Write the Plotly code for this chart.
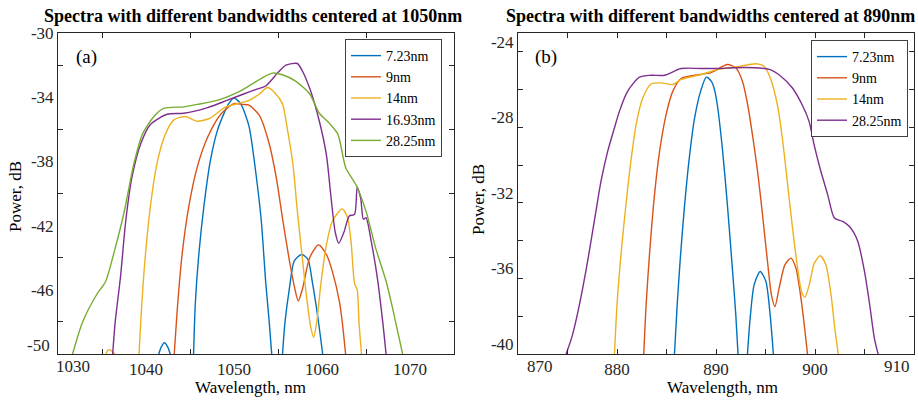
import plotly.graph_objects as go

# ---------------- data: panel (a), centered at 1050 nm ----------------
labels_a = ["7.23nm", "9nm", "14nm", "16.93nm", "28.25nm"]

wl_a_723 = [1041.4, 1041.7, 1042.1, 1042.5, 1042.8, None,
            1045.4, 1045.6, 1046.0, 1046.6, 1047.3, 1048.1, 1048.9, 1049.4, 1050.0, 1050.75,
            1051.7, 1052.5, 1053.1, 1053.6, 1054.0, 1054.3, None,
            1055.5, 1055.8, 1056.3, 1056.85, 1057.7, 1058.4, 1058.9, 1059.5, 1060.1]
p_a_723 = [-50.1, -49.6, -49.3, -49.6, -50.1, None,
           -50.1, -46.9, -43.8, -40.7, -38.0, -36.1, -34.96, -34.4, -34.06, -34.4,
           -35.8, -38.8, -41.7, -45.5, -48.0, -50.1, None,
           -50.1, -48.0, -45.9, -44.2, -43.8, -44.1, -45.5, -47.6, -50.1]

wl_a_9 = [1043.2, 1043.6, 1044.1, 1044.9, 1045.8, 1047.0, 1048.5, 1050.0, 1051.0, 1051.7,
          1052.9, 1054.0, 1054.8, 1055.5, 1056.3, 1056.9, 1057.3, 1057.8, 1058.6, 1059.6,
          1060.5, 1061.2, 1062.0, 1062.3, 1062.7]
p_a_9 = [-50.1, -46.9, -43.8, -40.7, -38.4, -36.5, -35.06, -34.4, -34.45, -34.5,
         -35.15, -36.9, -39.0, -41.5, -44.2, -45.9, -46.7, -45.9, -44.0, -43.2,
         -43.8, -44.9, -46.8, -48.0, -50.1]

wl_a_14 = [1035.4, 1035.7, 1036.1, 1036.6, None,
           1039.2, 1039.4, 1039.8, 1040.5, 1041.3, 1042.2, 1043.2, 1044.5, 1045.8, 1047.3,
           1048.9, 1050.4, 1051.7, 1052.9, 1053.8, 1054.6, 1055.5, 1056.1, 1056.7, 1057.2,
           1057.8, 1058.3, 1058.75, 1059.05, 1059.4, 1059.9, 1060.5, 1061.2, 1062.3, 1062.9,
           1063.3, 1063.7, 1064.0, 1064.2, 1064.5]
p_a_14 = [-50.1, -49.75, -49.8, -50.1, None,
          -50.1, -48.0, -44.7, -40.8, -38.0, -36.3, -35.4, -35.2, -35.5, -35.3,
          -34.65, -34.4, -34.2, -33.8, -33.4, -33.7, -34.4, -36.1, -38.2, -41.1,
          -44.2, -46.7, -48.4, -48.96, -48.0, -45.5, -43.2, -41.7, -40.96, -41.5,
          -43.0, -45.6, -46.0, -48.0, -50.1]

wl_a_1693 = [1036.2, 1036.5, 1037.1, 1037.7, 1038.4, 1039.4, 1040.5, 1042.4, 1044.3, 1047.0,
             1049.2, 1051.1, 1052.6, 1053.6, 1055.1, 1055.9, 1057.2, 1057.8, 1058.7, 1059.7,
             1060.5, 1061.0, 1061.5, 1061.9, 1062.5, 1063.1, 1063.7, 1064.0, 1064.4, 1064.7,
             1065.0, 1065.6, 1066.3, 1066.9, 1067.3]
p_a_1693 = [-50.1, -48.0, -45.2, -41.7, -39.0, -36.9, -35.7, -35.06, -35.0, -34.65,
            -34.2, -33.8, -33.5, -33.3, -32.4, -32.0, -31.9, -32.4, -33.6, -35.5,
            -37.6, -40.1, -42.4, -43.1, -42.4, -41.4, -41.3, -39.6, -40.3, -41.6,
            -41.5, -43.0, -45.3, -48.0, -50.1]

wl_a_2825 = [1031.6, 1032.8, 1034.5, 1035.4, 1036.5, 1037.5, 1038.6, 1039.6, 1040.9, 1042.0,
             1044.3, 1045.8, 1048.1, 1050.4, 1051.7, 1052.6, 1053.5, 1054.4, 1055.5, 1057.0,
             1058.6, 1059.7, 1060.8, 1061.8, 1062.7, 1063.9, 1065.0, 1066.1, 1067.3, 1068.0,
             1069.2]
p_a_2825 = [-50.1, -48.0, -46.2, -45.5, -43.4, -41.2, -38.2, -36.3, -35.2, -34.7,
            -34.6, -34.45, -34.2, -33.7, -33.3, -33.0, -32.7, -32.5, -32.6, -33.0,
            -33.8, -35.0, -35.6, -36.3, -38.4, -39.5, -41.1, -43.4, -45.5, -47.1,
            -50.1]

# ---------------- data: panel (b), centered at 890 nm ----------------
labels_b = ["7.23nm", "9nm", "14nm", "28.25nm"]

wl_b_723 = [885.8, 886.08, 886.42, 886.83, 887.34, 887.84, 888.45, 889.02, 889.52, 889.8,
            890.13, 890.64, 891.15, 891.65, 892.0, 892.23, None,
            893.17, 893.45, 893.85, 894.46, 895.04, 895.47, 895.8]
p_b_723 = [-40.05, -37.4, -34.75, -32.1, -29.44, -27.5, -26.08, -25.34, -25.55, -25.9,
           -26.8, -29.1, -32.1, -35.45, -37.93, -40.05, None,
           -40.05, -38.1, -36.34, -35.63, -36.16, -37.93, -40.05]

wl_b_9 = [882.7, 882.94, 883.28, 883.79, 884.3, 884.96, 885.64, 886.48, 887.84, 889.5,
          891.15, 892.0, 892.67, 893.2, 893.68, 894.2, 894.7, 895.2, 895.6, 895.95,
          896.38, 896.96, 897.57, 898.07, 898.58, 898.99, 899.25]
p_b_9 = [-40.05, -37.4, -34.75, -31.56, -29.27, -27.32, -26.08, -25.41, -25.24, -25.1,
         -24.67, -24.84, -25.55, -26.8, -28.38, -30.33, -32.63, -35.1, -36.87, -37.49,
         -36.5, -35.28, -34.92, -35.45, -37.04, -38.8, -40.05]

wl_b_14 = [879.74, 880.0, 880.4, 880.9, 881.4, 881.93, 882.6, 883.44, 884.46, 885.64,
           886.48, 888.5, 890.2, 892.5, 894.0, 894.86, 895.54, 896.2, 896.7, 897.2,
           897.73, 898.24, 898.64, 898.99, 899.42, 899.93, 900.54, 901.1, 901.62, 902.0,
           902.36]
p_b_14 = [-40.05, -37.4, -34.75, -32.1, -29.8, -27.85, -26.44, -25.7, -25.64, -25.73,
          -25.46, -25.2, -24.93, -24.76, -24.63, -24.76, -25.46, -26.8, -28.56, -30.86,
          -33.33, -35.45, -36.7, -36.99, -36.34, -35.19, -34.8, -35.28, -36.87, -38.64,
          -40.05]

wl_b_2825 = [874.83, 875.5, 876.2, 876.86, 877.37, 877.87, 878.38, 879.06, 879.74, 880.24,
             881.08, 882.27, 883.44, 884.8, 886.48, 888.5, 890.2, 891.8, 893.85, 895.4,
             896.55, 897.7, 898.7, 899.4, 899.9, 900.5, 901.28, 901.96, 902.8, 903.48,
             904.3, 904.99, 905.5, 906.0, 906.4]
p_b_2825 = [-40.05, -39.0, -37.4, -35.6, -34.04, -32.45, -30.86, -29.27, -28.03, -27.15,
            -26.08, -25.34, -25.24, -25.24, -24.88, -24.88, -24.88, -24.84, -24.84, -24.93,
            -25.29, -25.9, -26.8, -27.68, -28.9, -30.15, -31.56, -32.8, -32.98, -33.25,
            -34.0, -35.6, -37.3, -39.17, -40.05]

# tick labels (edge labels are drawn inset, as in the original figure)
xticks_a = [1040, 1050, 1060, 1070]
xminor_a = [1035, 1045, 1055, 1065]
yticks_a = [-30, -34, -38, -42, -46]
yminor_a = [-32, -36, -40, -44, -48]
xticks_b = [880, 890, 900]
xminor_b = [875, 880, 885, 890, 895, 900, 905]
yticks_b = [-24, -28, -32, -36, -40]
yminor_b = [-24, -26, -28, -30, -32, -34, -36, -38]
edge_labels = ["1030", "-50", "870", "910"]

colors = ["#0072BD", "#D95319", "#EDB120", "#7E2F8E", "#77AC30"]
FONT = "Liberation Serif, Times New Roman, serif"
W, H = 918, 404

fig = go.Figure()

series_a = [(wl_a_723, p_a_723), (wl_a_9, p_a_9), (wl_a_14, p_a_14),
            (wl_a_1693, p_a_1693), (wl_a_2825, p_a_2825)]
for (x, y), name, c in zip(series_a, labels_a, colors):
    fig.add_trace(go.Scatter(x=x, y=y, mode="lines", name=name,
                             line=dict(color=c, width=1.4, shape="spline", smoothing=0.7),
                             xaxis="x", yaxis="y", legend="legend", connectgaps=False))

series_b = [(wl_b_723, p_b_723), (wl_b_9, p_b_9), (wl_b_14, p_b_14), (wl_b_2825, p_b_2825)]
colors_b = [colors[0], colors[1], colors[2], colors[3]]
for (x, y), name, c in zip(series_b, labels_b, colors_b):
    fig.add_trace(go.Scatter(x=x, y=y, mode="lines", name=name,
                             line=dict(color=c, width=1.4, shape="spline", smoothing=0.7),
                             xaxis="x2", yaxis="y2", legend="legend2", connectgaps=False))

def px(v):
    return v / W

def py(v):
    return 1 - v / H

def axis(domain, rng, tickvals, minorvals, anchor, shift=0):
    return dict(domain=domain, range=rng, tickmode="array", tickvals=tickvals,
                ticktext=[str(t) for t in tickvals],
                ticks="", showline=True, linecolor="#262626", linewidth=1, mirror="ticks",
                showgrid=False, zeroline=False, anchor=anchor, automargin=False,
                ticklabelshift=shift,
                tickfont=dict(family=FONT, size=17, color="#262626"),
                minor=dict(tickmode="array", tickvals=minorvals, ticks="inside",
                           ticklen=5, tickcolor="#262626", showgrid=False))

legend_common = dict(xanchor="left", yanchor="top", bgcolor="white",
                     bordercolor="#404040", borderwidth=1,
                     font=dict(family=FONT, size=14, color="#000000"),
                     tracegroupgap=0, itemwidth=30)

fig.update_layout(
    width=W, height=H, margin=dict(l=0, r=0, t=0, b=0, pad=0, autoexpand=False),
    paper_bgcolor="white", plot_bgcolor="white",
    font=dict(family=FONT, size=15, color="#000000"),
    xaxis=axis([px(58), px(454)], [1030, 1075], xticks_a, xminor_a, "y"),
    yaxis=axis([py(354), py(33)], [-50, -30], yticks_a, yminor_a, "x"),
    xaxis2=axis([px(518), px(914)], [870, 910], xticks_b, xminor_b, "y2"),
    yaxis2=axis([py(354), py(33)], [-40, -23], yticks_b, yminor_b, "x2", shift=-10),
    legend=dict(x=px(345), y=py(39), **legend_common),
    legend2=dict(x=px(811), y=py(40), **legend_common),
    showlegend=True,
)

annots = [
    dict(text="<b>Spectra with different bandwidths centered at 1050nm</b>", x=px(253), y=py(16),
         font=dict(size=18)),
    dict(text="<b>Spectra with different bandwidths centered at 890nm</b>", x=px(710), y=py(16),
         font=dict(size=18)),
    dict(text="(a)", x=px(86), y=py(57), font=dict(size=19)),
    dict(text="(b)", x=px(546), y=py(57), font=dict(size=19)),
    dict(text="Power, dB", x=px(15), y=py(197), textangle=-90, font=dict(size=17)),
    dict(text="Power, dB", x=px(478), y=py(200), textangle=-90, font=dict(size=17)),
    dict(text="Wavelength, nm", x=px(250), y=py(387), font=dict(size=17)),
    dict(text="Wavelength, nm", x=px(722), y=py(387), font=dict(size=17)),
]
for a in annots:
    a.update(xref="paper", yref="paper", showarrow=False, xanchor="center", yanchor="middle")
    a["font"] = dict(family=FONT, color="#000000", size=a["font"]["size"])
    fig.add_annotation(**a)

# inset edge tick labels
edge_pos = [(73, 366, "center"), (52, 345, "right"), (540, 366, "center"), (897, 366, "center")]
for txt, (ex, ey, anc) in zip(edge_labels, edge_pos):
    fig.add_annotation(text=txt, x=px(ex), y=py(ey), xref="paper", yref="paper",
                       showarrow=False, xanchor=anc, yanchor="middle",
                       font=dict(family=FONT, size=17, color="#262626"))

fig.write_html("out.html", config={"displayModeBar": False},
               post_script="document.body.style.margin='0px';")
